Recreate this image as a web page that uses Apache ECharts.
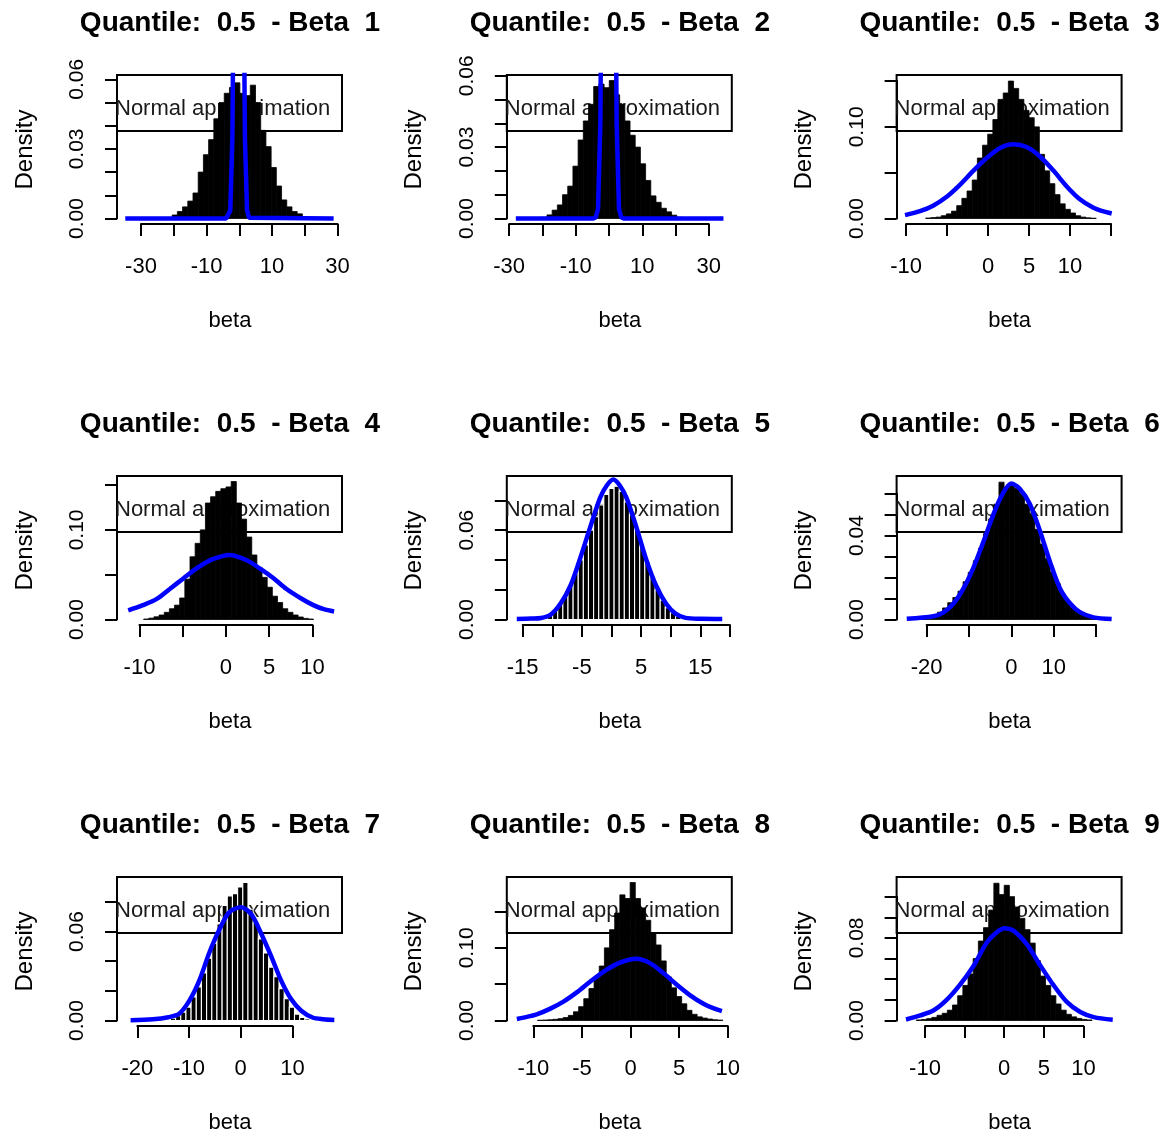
<!DOCTYPE html>
<html>
<head>
<meta charset="utf-8">
<title>Posterior draws of beta, quantile 0.5</title>
<script src="https://cdn.jsdelivr.net/npm/echarts@6/dist/echarts.min.js"></script>
<style>
  html, body { margin: 0; padding: 0; background: #ffffff; }
  #chart { width: 1169px; height: 1137px; }
</style>
</head>
<body>
<div id="chart"></div>
<script>
// Posterior draws of the nine coefficients at quantile 0.5:
// density histograms with the normal approximation drawn over them.
const quantile = 0.5;

// x limits of each panel (the plotting region adds 4% on both sides)
const xLimits = [[-34.77, 29.1], [-28.2, 34.69], [-10.13, 15.39], [-11.63, 12.56], [-16.27, 19.07],
                 [-25.12, 24.31], [-22.31, 18.16], [-11.87, 9.66], [-12.53, 13.89]];
// highest density shown on each y axis
const yTop = [0.0595, 0.058, 0.1506, 0.154, 0.0927, 0.0658, 0.093, 0.19, 0.1337];

// histogram breaks: first break and bin width
const binStart = [-34.8, -28, -10.12, -11.3, -16, -24.7, -16.6, -11.7, -12.4];
const binWidth = [1.59, 1.56, 0.63, 0.595, 0.865, 1.21, 1.0, 0.53, 0.6525];

// histogram densities, one value per bin
const density1 = [0, 0, 0, 0, 0, 0, 0, 0, 0.0004, 0.0015, 0.003, 0.005, 0.0075, 0.011, 0.02, 0.0275, 0.034, 0.043, 0.05, 0.054,
                  0.0565, 0.0585, 0.054, 0.053, 0.0575, 0.05, 0.038, 0.031, 0.022, 0.014, 0.008, 0.005, 0.003, 0.002, 0.0008, 0.0002, 0, 0, 0, 0];
const density2 = [0, 0, 0, 0, 0, 0.0005, 0.0015, 0.0035, 0.0057, 0.01, 0.0136, 0.022, 0.033, 0.041, 0.048, 0.0555, 0.0565, 0.055, 0.058, 0.052,
                  0.048, 0.041, 0.035, 0.03, 0.023, 0.016, 0.0095, 0.0068, 0.0043, 0.0028, 0.0014, 0.0005, 0, 0, 0, 0, 0, 0, 0, 0];
const density3 = [0, 0, 0, 0, 0.0005, 0.001, 0.0015, 0.003, 0.005, 0.008, 0.014, 0.022, 0.03, 0.042, 0.066, 0.08, 0.092, 0.108, 0.13, 0.137,
                  0.15, 0.142, 0.13, 0.118, 0.11, 0.1, 0.07, 0.052, 0.038, 0.026, 0.016, 0.01, 0.006, 0.003, 0.0015, 0.0007, 0.0003, 0, 0, 0];
const density4 = [0, 0, 0, 0.0005, 0.0015, 0.003, 0.005, 0.008, 0.012, 0.016, 0.024, 0.045, 0.07, 0.085, 0.1, 0.13, 0.137, 0.143, 0.146, 0.148,
                  0.154, 0.13, 0.112, 0.092, 0.072, 0.058, 0.047, 0.036, 0.026, 0.019, 0.012, 0.008, 0.005, 0.0028, 0.0012, 0.0005, 0, 0, 0, 0];
const density5 = [0, 0, 0, 0, 0, 0.0015, 0.003, 0.006, 0.0105, 0.016, 0.023, 0.031, 0.04, 0.05, 0.06, 0.069, 0.077, 0.084, 0.088, 0.0895,
                  0.086, 0.079, 0.07, 0.06, 0.049, 0.039, 0.029, 0.02, 0.013, 0.008, 0.0045, 0.0022, 0.001, 0.0004, 0, 0, 0, 0, 0, 0];
const density6 = [0, 0, 0.0003, 0.0006, 0.0012, 0.002, 0.0035, 0.0055, 0.008, 0.0105, 0.0135, 0.018, 0.0225, 0.028, 0.034, 0.041, 0.048, 0.055, 0.0655, 0.063,
                  0.064, 0.0625, 0.06, 0.055, 0.05, 0.043, 0.036, 0.029, 0.0225, 0.017, 0.012, 0.0085, 0.0055, 0.0035, 0.002, 0.0012, 0.0006, 0.0003, 0, 0];
const density7 = [0, 0.0003, 0.0007, 0.0016, 0.0032, 0.0055, 0.009, 0.0158, 0.0226, 0.032, 0.042, 0.052, 0.065, 0.0775, 0.084, 0.0855,
                  0.09, 0.093, 0.075, 0.066, 0.055, 0.0455, 0.036, 0.0295, 0.0215, 0.0146, 0.009, 0.0043, 0.002, 0.001, 0.0004];
const density8 = [0, 0, 0, 0, 0.0003, 0.0006, 0.001, 0.0016, 0.0025, 0.004, 0.007, 0.012, 0.019, 0.03, 0.044, 0.058, 0.075, 0.1, 0.125, 0.148,
                  0.173, 0.168, 0.19, 0.168, 0.155, 0.138, 0.12, 0.104, 0.082, 0.06, 0.045, 0.033, 0.023, 0.014, 0.0085, 0.005, 0.0033, 0.002, 0.001, 0.0005];
const density9 = [0, 0, 0.0005, 0.001, 0.0018, 0.003, 0.005, 0.007, 0.01, 0.015, 0.024, 0.034, 0.045, 0.06, 0.077, 0.09, 0.107, 0.133, 0.122, 0.131,
                  0.12, 0.11, 0.099, 0.088, 0.075, 0.058, 0.043, 0.034, 0.024, 0.016, 0.01, 0.006, 0.0035, 0.002, 0.001, 0.0005, 0, 0, 0, 0];

// normal approximation curves as [beta, density] points
const curve1 = [[-34.8, 0], [-4.0, 0], [-3.4, 0.0003], [-2.75, 0.0035], [-2.1, 0.035], [-1.47, 0.15], [-0.83, 0.45], [-0.2, 0.55],
                [0.45, 0.45], [1.08, 0.15], [1.72, 0.035], [2.36, 0.0035], [3.0, 0.0003], [3.6, 0], [28.8, 0]];
const curve2 = [[-28, 0], [-4.7, 0], [-4.0, 0.0004], [-3.3, 0.004], [-2.6, 0.04], [-1.9, 0.17], [-1.2, 0.4], [-0.5, 0.52], [0.2, 0.52],
                [0.9, 0.4], [1.6, 0.17], [2.3, 0.04], [3.0, 0.004], [3.7, 0.0004], [4.4, 0], [34.4, 0]];
const curve3 = [[-10.12, 0.0037], [-8.3, 0.008], [-6.7, 0.014], [-5.0, 0.024], [-3.4, 0.037], [-1.8, 0.052], [-0.16, 0.066], [1.46, 0.077],
                [3.1, 0.081], [4.7, 0.078], [6.3, 0.068], [8.0, 0.052], [9.6, 0.035], [11.2, 0.021], [12.8, 0.012], [14.0, 0.008], [15.08, 0.0055]];
const curve4 = [[-11.3, 0.0102], [-9.6, 0.016], [-8.0, 0.023], [-6.5, 0.034], [-4.9, 0.046], [-3.4, 0.057], [-1.85, 0.066], [-0.3, 0.071],
                [0.3, 0.072], [0.85, 0.0715], [2.4, 0.066], [3.9, 0.057], [5.5, 0.046], [7.0, 0.034], [8.6, 0.024], [10.1, 0.016], [11.3, 0.0115], [12.5, 0.009]];
const curve5 = [[-16, 0.0004], [-13.5, 0.0006], [-11.9, 0.001], [-10.3, 0.0032], [-8.6, 0.0107], [-6.9, 0.023], [-5.3, 0.041], [-3.6, 0.062],
                [-1.9, 0.082], [-0.8, 0.09], [0.3, 0.094], [1.4, 0.09], [2.5, 0.082], [4.2, 0.062], [5.8, 0.041], [7.5, 0.023], [9.2, 0.0107],
                [10.8, 0.0039], [12.5, 0.0011], [15, 0.0005], [18.7, 0.0004]];
const curve6 = [[-24.7, 0.0003], [-18.4, 0.0015], [-16.1, 0.0033], [-13.7, 0.0075], [-11.3, 0.0148], [-9.0, 0.0245], [-6.6, 0.037], [-4.25, 0.05],
                [-2.3, 0.059], [0, 0.0648], [2.0, 0.0624], [4.4, 0.055], [6.8, 0.042], [9.1, 0.0277], [11.5, 0.0148], [13.9, 0.0076], [16.2, 0.0035],
                [19.4, 0.001], [23.7, 0.0002]];
const curve7 = [[-21.3, 0.0002], [-17, 0.0008], [-14, 0.0022], [-11.9, 0.0045], [-9.9, 0.0135], [-8.0, 0.027], [-6.1, 0.0455], [-4.1, 0.0615],
                [-2.2, 0.073], [0.05, 0.0763], [2.0, 0.0718], [3.9, 0.059], [5.9, 0.0432], [7.8, 0.027], [9.7, 0.0146], [11.7, 0.0066], [13.9, 0.002],
                [16, 0.0008], [18.1, 0.0003]];
const curve8 = [[-11.7, 0.002], [-11.0, 0.004], [-9.65, 0.0085], [-8.3, 0.016], [-6.9, 0.026], [-5.5, 0.039], [-4.2, 0.053], [-2.8, 0.067],
                [-1.4, 0.078], [-0.05, 0.084], [0.6, 0.085], [2.0, 0.079], [3.4, 0.065], [4.7, 0.05], [6.1, 0.035], [7.5, 0.023], [8.5, 0.017], [9.4, 0.013]];
const curve9 = [[-12.4, 0.001], [-10.6, 0.0049], [-8.9, 0.0099], [-7.3, 0.0197], [-5.6, 0.0345], [-3.9, 0.0526], [-2.2, 0.0756], [-0.95, 0.0855],
                [0, 0.0894], [1.16, 0.0871], [2.84, 0.074], [4.5, 0.054], [6.2, 0.0345], [7.9, 0.018], [9.6, 0.0082], [11.3, 0.0033], [13.7, 0.0008]];

// axis ticks: [first, last, step], and the tick labels that are printed
const xTickRange = [[-30, 30, 10], [-30, 30, 10], [-10, 15, 5], [-10, 10, 5], [-15, 20, 5], [-20, 20, 10], [-20, 10, 10], [-10, 10, 5], [-10, 10, 5]];
const xTickLabels = [['-30', '-10', '10', '30'], ['-30', '-10', '10', '30'], ['-10', '0', '5', '10'], ['-10', '0', '5', '10'],
                     ['-15', '-5', '5', '15'], ['-20', '0', '10'], ['-20', '-10', '0', '10'], ['-10', '-5', '0', '5', '10'], ['-10', '0', '5', '10']];
const yTickRange = [[0, 0.06, 0.01], [0, 0.06, 0.01], [0, 0.15, 0.05], [0, 0.15, 0.05], [0, 0.08, 0.02], [0, 0.06, 0.01], [0, 0.08, 0.02], [0, 0.15, 0.05], [0, 0.12, 0.02]];
const yTickLabels = [['0.00', '0.03', '0.06'], ['0.00', '0.03', '0.06'], ['0.00', '0.10'], ['0.00', '0.10'], ['0.00', '0.06'],
                     ['0.00', '0.04'], ['0.00', '0.06'], ['0.00', '0.10'], ['0.00', '0.08']];

const densities = [density1, density2, density3, density4, density5, density6, density7, density8, density9];
const curves = [curve1, curve2, curve3, curve4, curve5, curve6, curve7, curve8, curve9];

// ---- layout and styling ----
const FONT = '"Liberation Sans", Arial, Helvetica, sans-serif';
const PLOT = { left: 117, top: 75, width: 226, height: 149, colStep: 389.8, rowStep: 401 };
const whiteBinEdges = [false, false, false, false, true, false, true, false, false];
const sharpCurve = [true, true, false, false, false, false, false, false, false];
const AXIS_LINE = { color: '#000', width: 2 };

function plotBox(p) {
  const r = Math.floor(p / 3), c = p % 3;
  return { left: PLOT.left + c * PLOT.colStep, top: PLOT.top + r * PLOT.rowStep, width: PLOT.width, height: PLOT.height };
}

// plotting region extends the limits by 4% on each side
function padRange(lo, hi) {
  const e = 0.04 * (hi - lo);
  return [lo - e, hi + e];
}

function binRenderer(whiteEdges) {
  return function (params, api) {
    const topLeft = api.coord([api.value(0), api.value(2)]);
    const bottomRight = api.coord([api.value(1), 0]);
    return {
      type: 'rect',
      shape: { x: topLeft[0], y: topLeft[1], width: bottomRight[0] - topLeft[0], height: bottomRight[1] - topLeft[1] },
      style: whiteEdges ? { fill: '#000', stroke: '#fff', lineWidth: 1.1 } : { fill: '#000', stroke: '#000', lineWidth: 0.8 }
    };
  };
}

const chart = echarts.init(document.getElementById('chart'));
const option = {
  animation: false,
  backgroundColor: '#ffffff',
  grid: [], xAxis: [], yAxis: [], series: [],
  graphic: { elements: [] }
};

for (let p = 0; p < 9; p++) {
  const box = plotBox(p);
  const xr = padRange(xLimits[p][0], xLimits[p][1]);
  const yr = padRange(0, yTop[p]);
  option.grid.push({ left: box.left, top: box.top, width: box.width, height: box.height });
  option.xAxis.push({
    type: 'value', gridIndex: p, min: xr[0], max: xr[1],
    axisLine: { show: false }, axisTick: { show: false }, axisLabel: { show: false }, splitLine: { show: false },
    name: 'beta', nameLocation: 'middle', nameGap: 86,
    nameTextStyle: { fontFamily: FONT, fontSize: 22, color: '#000' }
  });
  option.yAxis.push({
    type: 'value', gridIndex: p, min: yr[0], max: yr[1],
    axisLine: { show: false }, axisTick: { show: false }, axisLabel: { show: false }, splitLine: { show: false },
    name: 'Density', nameLocation: 'middle', nameGap: 80,
    nameTextStyle: { fontFamily: FONT, fontSize: 24, color: '#000' }
  });

  const bins = [];
  densities[p].forEach(function (d, k) {
    if (d > 0) bins.push([binStart[p] + k * binWidth[p], binStart[p] + (k + 1) * binWidth[p], d]);
  });
  option.series.push({
    type: 'custom', name: 'Beta ' + (p + 1), xAxisIndex: p, yAxisIndex: p, z: 2,
    renderItem: binRenderer(whiteBinEdges[p]),
    encode: { x: [0, 1], y: 2 },
    data: bins, clip: true
  });
  option.series.push({
    type: 'line', name: 'Normal approximation', xAxisIndex: p, yAxisIndex: p, z: 3,
    data: curves[p], showSymbol: false, symbol: 'none',
    smooth: sharpCurve[p] ? false : 0.3,
    clip: true,
    lineStyle: { color: '#0000ff', width: 4.5 }
  });

  // panel title, centred over the plotting region
  option.graphic.elements.push({
    type: 'text', x: box.left + box.width / 2, y: 23 + Math.floor(p / 3) * PLOT.rowStep, z: 5,
    style: { text: 'Quantile:  ' + quantile.toFixed(1) + '  - Beta  ' + (p + 1), font: 'bold 28px ' + FONT,
             fill: '#000', align: 'center', verticalAlign: 'middle' }
  });
  // legend box in the top-left corner, drawn beneath the histogram
  option.graphic.elements.push({
    type: 'rect', z: 1,
    shape: { x: box.left, y: box.top, width: 225, height: 56 },
    style: { fill: 'none', stroke: '#000', lineWidth: 2 }
  });
  option.graphic.elements.push({
    type: 'text', x: box.left - 2, y: box.top + 34, z: 1,
    style: { text: 'Normal approximation', font: '22px ' + FONT, fill: '#1a1a1a', align: 'left', verticalAlign: 'middle' }
  });
}

chart.setOption(option);

// Axes run only from the first to the last tick, so each one gets its own
// grid placed with the pixel positions of those ticks in the plotting region.
for (let p = 0; p < 9; p++) {
  const box = plotBox(p);
  const xt = xTickRange[p], yt = yTickRange[p];
  const x0 = chart.convertToPixel({ xAxisIndex: p }, xt[0]);
  const x1 = chart.convertToPixel({ xAxisIndex: p }, xt[1]);
  const y0 = chart.convertToPixel({ yAxisIndex: p }, yt[0]);
  const y1 = chart.convertToPixel({ yAxisIndex: p }, yt[1]);
  const shownX = xTickLabels[p], shownY = yTickLabels[p];

  const gx = option.grid.length;
  option.grid.push({ left: x0, width: x1 - x0, top: box.top, height: box.height });
  option.xAxis.push({
    type: 'value', gridIndex: gx, min: xt[0], max: xt[1], interval: xt[2],
    axisLine: { show: true, onZero: false, lineStyle: AXIS_LINE },
    axisTick: { show: true, length: 12, lineStyle: AXIS_LINE },
    axisLabel: {
      show: true, margin: 32, fontFamily: FONT, fontSize: 22, color: '#000',
      formatter: function (v) { const s = String(Math.round(v)); return shownX.indexOf(s) >= 0 ? s : ''; }
    },
    splitLine: { show: false }
  });
  option.yAxis.push({ type: 'value', gridIndex: gx, show: false, min: 0, max: 1, splitLine: { show: false } });

  const gy = option.grid.length;
  option.grid.push({ left: box.left, width: box.width, top: y1, height: y0 - y1 });
  option.xAxis.push({ type: 'value', gridIndex: gy, show: false, min: 0, max: 1, splitLine: { show: false } });
  option.yAxis.push({
    type: 'value', gridIndex: gy, min: yt[0], max: yt[1], interval: yt[2],
    axisLine: { show: true, onZero: false, lineStyle: AXIS_LINE },
    axisTick: { show: true, length: 12, lineStyle: AXIS_LINE },
    axisLabel: {
      show: true, rotate: 90, margin: 29, fontFamily: FONT, fontSize: 21, color: '#000',
      formatter: function (v) { const s = v.toFixed(2); return shownY.indexOf(s) >= 0 ? s : ''; }
    },
    splitLine: { show: false }
  });
}

chart.setOption({ grid: option.grid, xAxis: option.xAxis, yAxis: option.yAxis });
</script>
</body>
</html>
